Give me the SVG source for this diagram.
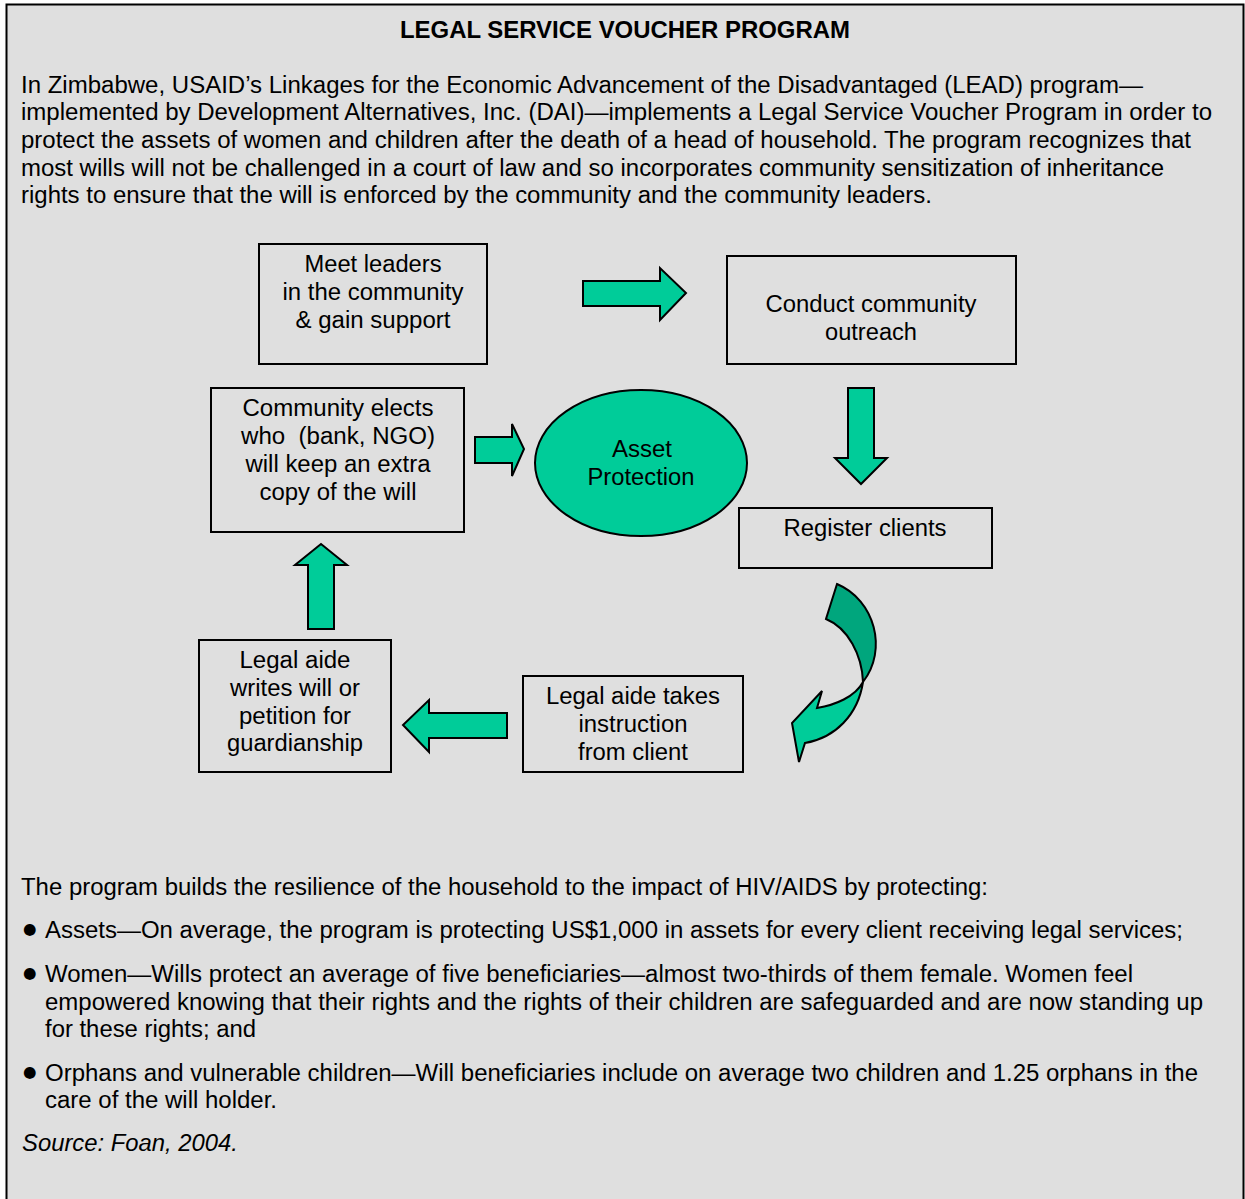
<svg xmlns="http://www.w3.org/2000/svg" width="1245" height="1199" viewBox="0 0 1245 1199">
<style>
text{font-family:"Liberation Sans",Arial,sans-serif;fill:#000}
.b{font-size:23px}
.t{font-size:23px;font-weight:bold}
.n{font-size:23.5px;text-anchor:middle}
.box{fill:none;stroke:#000;stroke-width:2}
.arr{fill:#00cc99;stroke:#000;stroke-width:2;stroke-linejoin:miter}
.dark{fill:#00a67d;stroke:#000;stroke-width:2}
.bul{font-size:15.5px;font-family:"DejaVu Sans",sans-serif}
</style>
<rect x="0" y="0" width="1245" height="1199" fill="#ffffff"/>
<rect x="6.5" y="4.5" width="1237" height="1200" fill="#dfdfdf" stroke="#000" stroke-width="2"/>
<text class="t" x="625" y="38" text-anchor="middle" textLength="450" lengthAdjust="spacingAndGlyphs">LEGAL SERVICE VOUCHER PROGRAM</text>
<g id="intro">
<text class="b" x="21" y="93" textLength="1122" lengthAdjust="spacingAndGlyphs">In Zimbabwe, USAID’s Linkages for the Economic Advancement of the Disadvantaged (LEAD) program—</text>
<text class="b" x="21" y="120" textLength="1191" lengthAdjust="spacingAndGlyphs">implemented by Development Alternatives, Inc. (DAI)—implements a Legal Service Voucher Program in order to</text>
<text class="b" x="21" y="148" textLength="1170" lengthAdjust="spacingAndGlyphs">protect the assets of women and children after the death of a head of household. The program recognizes that</text>
<text class="b" x="21" y="176" textLength="1143" lengthAdjust="spacingAndGlyphs">most wills will not be challenged in a court of law and so incorporates community sensitization of inheritance</text>
<text class="b" x="21" y="203" textLength="911" lengthAdjust="spacingAndGlyphs">rights to ensure that the will is enforced by the community and the community leaders.</text>
</g>
<g id="connectors">
<path class="arr" d="M583,281 H660 V268 L686,293 L660,320 V306 H583 Z"/>
<path class="arr" d="M848,388 H874 V458 H887 L861,484 L835,458 H848 Z"/>
<path class="arr" d="M475,437 H512 V424 L524,449 L512,476 V463 H475 Z"/>
<path class="arr" d="M507,713 H429 V700 L403,725 L429,752 V738 H507 Z"/>
<path class="arr" d="M308,629 V565 H295 L321,544 L347,565 H334 V629 Z"/>
<path class="dark" d="M837,584 C875,600 888,650 863,682 C862,655 848,628 826,619 Z"/>
<path class="arr" d="M863,682 C858,715 835,738 805,743 L799,762 L792,723 L822,691 L817,708 C835,705 855,697 863,682 Z"/>
</g>
<g id="node-meet">
<rect class="box" x="259" y="244" width="228" height="120"/>
<text class="n" x="373" y="272" textLength="137" lengthAdjust="spacingAndGlyphs">Meet leaders</text>
<text class="n" x="373" y="300" textLength="181" lengthAdjust="spacingAndGlyphs">in the community</text>
<text class="n" x="373" y="328" textLength="155" lengthAdjust="spacingAndGlyphs">&amp; gain support</text>
</g>
<g id="node-outreach">
<rect class="box" x="727" y="256" width="289" height="108"/>
<text class="n" x="871" y="312" textLength="211" lengthAdjust="spacingAndGlyphs">Conduct community</text>
<text class="n" x="871" y="340" textLength="92" lengthAdjust="spacingAndGlyphs">outreach</text>
</g>
<g id="node-elects">
<rect class="box" x="211" y="388" width="253" height="144"/>
<text class="n" x="338" y="416" textLength="191" lengthAdjust="spacingAndGlyphs">Community elects</text>
<text class="n" x="338" y="444" textLength="194" lengthAdjust="spacingAndGlyphs" xml:space="preserve">who  (bank, NGO)</text>
<text class="n" x="338" y="472" textLength="185" lengthAdjust="spacingAndGlyphs">will keep an extra</text>
<text class="n" x="338" y="500" textLength="157" lengthAdjust="spacingAndGlyphs">copy of the will</text>
</g>
<g id="node-asset">
<ellipse cx="641" cy="463" rx="106" ry="73" fill="#00cc99" stroke="#000" stroke-width="2"/>
<text class="n" x="642" y="457" textLength="60" lengthAdjust="spacingAndGlyphs">Asset</text>
<text class="n" x="641" y="485" textLength="107" lengthAdjust="spacingAndGlyphs">Protection</text>
</g>
<g id="node-register">
<rect class="box" x="739" y="508" width="253" height="60"/>
<text class="n" x="865" y="536" textLength="163" lengthAdjust="spacingAndGlyphs">Register clients</text>
</g>
<g id="node-writes">
<rect class="box" x="199" y="640" width="192" height="132"/>
<text class="n" x="295" y="668" textLength="111" lengthAdjust="spacingAndGlyphs">Legal aide</text>
<text class="n" x="295" y="696" textLength="130" lengthAdjust="spacingAndGlyphs">writes will or</text>
<text class="n" x="295" y="724" textLength="112" lengthAdjust="spacingAndGlyphs">petition for</text>
<text class="n" x="295" y="751" textLength="136" lengthAdjust="spacingAndGlyphs">guardianship</text>
</g>
<g id="node-instruction">
<rect class="box" x="523" y="676" width="220" height="96"/>
<text class="n" x="633" y="704" textLength="174" lengthAdjust="spacingAndGlyphs">Legal aide takes</text>
<text class="n" x="633" y="732" textLength="109" lengthAdjust="spacingAndGlyphs">instruction</text>
<text class="n" x="633" y="760" textLength="110" lengthAdjust="spacingAndGlyphs">from client</text>
</g>
<g id="outro">
<text class="b" x="21" y="895" textLength="967" lengthAdjust="spacingAndGlyphs">The program builds the resilience of the household to the impact of HIV/AIDS by protecting:</text>
<text class="bul" x="23" y="934">●</text>
<text class="b" x="45" y="938" textLength="1138" lengthAdjust="spacingAndGlyphs">Assets—On average, the program is protecting US$1,000 in assets for every client receiving legal services;</text>
<text class="bul" x="23" y="978">●</text>
<text class="b" x="45" y="982" textLength="1088" lengthAdjust="spacingAndGlyphs">Women—Wills protect an average of five beneficiaries—almost two-thirds of them female. Women feel</text>
<text class="b" x="45" y="1010" textLength="1158" lengthAdjust="spacingAndGlyphs">empowered knowing that their rights and the rights of their children are safeguarded and are now standing up</text>
<text class="b" x="45" y="1037" textLength="211" lengthAdjust="spacingAndGlyphs">for these rights; and</text>
<text class="bul" x="23" y="1077">●</text>
<text class="b" x="45" y="1081" textLength="1153" lengthAdjust="spacingAndGlyphs">Orphans and vulnerable children—Will beneficiaries include on average two children and 1.25 orphans in the</text>
<text class="b" x="45" y="1108" textLength="232" lengthAdjust="spacingAndGlyphs">care of the will holder.</text>
<text class="b" x="22" y="1151" font-style="italic" textLength="216" lengthAdjust="spacingAndGlyphs">Source: Foan, 2004.</text>
</g>
</svg>
